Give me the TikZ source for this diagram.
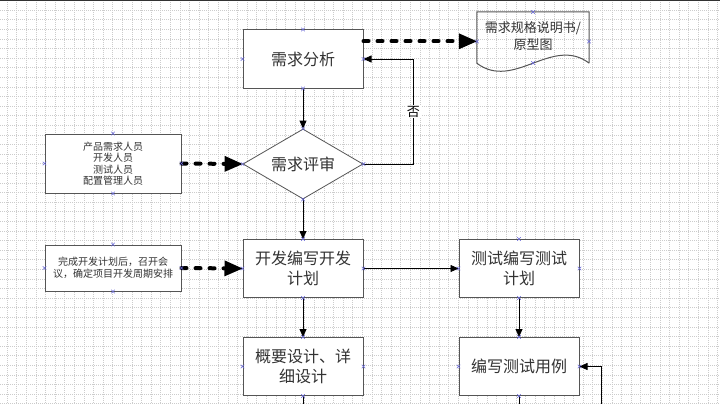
\documentclass[tikz,border=0pt]{standalone}
\usepackage{fontspec}
\setmainfont{Noto Sans CJK SC}
\usetikzlibrary{arrows.meta,shapes.geometric,calc}
\definecolor{edgec}{HTML}{555555}
\definecolor{txtc}{HTML}{333333}
\definecolor{cpc}{HTML}{6A6AD8}
\definecolor{gridc}{HTML}{CCCCCC}
\tikzset{
  proc/.style={draw=edgec, line width=1pt, fill=white, minimum width=120pt, minimum height=58pt,
    inner sep=0pt, align=center, text=txtc, font=\fontsize{16}{20}\selectfont},
  note/.style={draw=edgec, line width=1pt, fill=white, minimum width=136pt, inner sep=0pt,
    align=center, text=txtc, font=\fontsize{10}{11.5}\selectfont},
  dec/.style={diamond, draw=edgec, line width=0.8pt, fill=white, minimum width=120pt,
    minimum height=70pt, shape aspect=1.7, inner sep=0pt, text=txtc, font=\fontsize{16}{20}\selectfont},
  doctext/.style={minimum width=112pt, minimum height=51pt, inner sep=0pt, align=center,
    text=txtc, font=\fontsize{13}{17}\selectfont},
  arr/.style={line width=0.8pt, draw=black, -{Triangle[length=8pt,width=7pt]}},
  dasharr/.style={line width=4pt, dash pattern=on 5pt off 9pt, line cap=round,
    -{Triangle[length=18pt,width=16pt,line width=0pt]}},
  cpmark/.style={draw=cpc, line width=0.5pt},
  gridline/.style={draw=gridc, line width=0.4pt, dash pattern=on 1pt off 1pt},
}
\begin{document}
\begin{tikzpicture}[x=1pt,y=-1pt]
\useasboundingbox (0,0) rectangle (720,404);
\fill[white] (0,0) rectangle (720,404);
% grid
\foreach \i in {0,...,74}{\draw[gridline] ({7+9.6*\i},0) -- ({7+9.6*\i},404);}
\foreach \j in {0,...,41}{\draw[gridline] (0,{10+9.6*\j}) -- (720,{10+9.6*\j});}
\fill[black!80] (0,0) rectangle (720,1.5);

% nodes
\node[proc] (req) at (303,59) {需求分析};
\node[dec] (rev) at (303,164) {需求评审};
\node[note, minimum height=59pt] (people) at (113,163.5) {产品需求人员\\开发人员\\测试人员\\配置管理人员};
\node[proc] (dev) at (303,268.5) {开发编写开发\\计划};
\node[note, minimum height=46pt] (plan) at (113,268) {完成开发计划后，召开会\\议，确定项目开发周期安排};
\node[proc] (test) at (519,268.5) {测试编写测试\\计划};
\node[proc] (des) at (303,366.5) {概要设计、详\\细设计};
\node[proc] (case) at (519,366.5) {编写测试用例};
\node[doctext] (doc) at (533,37.5) {\raisebox{4pt}{\begin{tabular}{@{}c@{}}需求规格说明书/\\原型图\end{tabular}}};
\draw[draw=edgec, line width=1pt] (doc.south east) -- (doc.north east) -- (doc.north west) -- (doc.south west)
  .. controls +(37,28) and +(-37,-28) .. (doc.south east);

\coordinate (rq1) at ($(req.north east)!0.2!(req.south east)$);
\coordinate (desout) at (303,404);
\coordinate (caseout) at (519,404);
\coordinate (loopin) at (601,404);

% connectors
\draw[arr] (req.south) -- (rev.north);
\draw[arr] (rev.south) -- (dev.north);
\draw[arr] (dev.south) -- (des.north);
\draw[arr] (dev.east) -- (test.west);
\draw[arr] (test.south) -- (case.north);
\draw[arr] (rev.east) -- ++(50,0) |- (req.east)
  node[pos=0.25, fill=white, inner sep=1pt, text=black, font=\fontsize{13}{15}\selectfont] {否};
\draw[dasharr] (people.east) -- (rev.west);
\draw[dasharr] (plan.east) -- (dev.west);
\draw[dasharr] (rq1) -- (rq1 -| doc.west);
\draw[line width=0.8pt] (des.south) -- (desout);
\draw[line width=0.8pt] (case.south) -- (caseout);
\draw[arr] (loopin) |- (case.east);

% connection point marks
\foreach \n in {req,rev,people,dev,plan,test,des,case}{
  \foreach \a in {north,south,east,west}{
    \draw[cpmark] (\n.\a) +(-1.8,-1.8) -- +(1.8,1.8) +(-1.8,1.8) -- +(1.8,-1.8);
  }
}
\foreach \p in {(533,12),(477,41.5),(589,41.5),(533,63)}{
  \draw[cpmark] \p +(-1.8,-1.8) -- +(1.8,1.8) +(-1.8,1.8) -- +(1.8,-1.8);
}
\end{tikzpicture}
\end{document}
